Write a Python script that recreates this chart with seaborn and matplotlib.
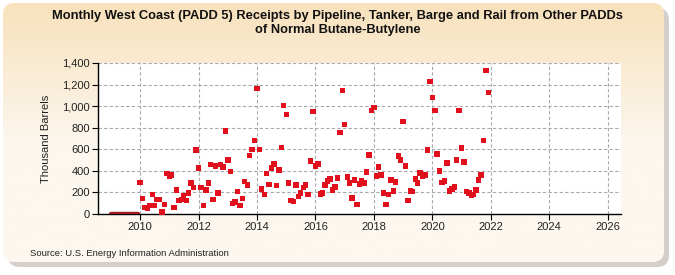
import numpy as np
import pandas as pd
import matplotlib
matplotlib.use("Agg")
import matplotlib.pyplot as plt
import matplotlib.dates as mdates
from matplotlib.patches import FancyBboxPatch
from matplotlib.ticker import FuncFormatter
import seaborn as sns

# ---- data (thousand barrels, monthly) ----
zero_start = "2009-01-01"
zero_values = [0] * 12  # 2009

series_start = "2010-01-01"
v2010 = [290, 141, 61, 49, 80, 178, 80, 132, 132, 18, 86, 375]
v2011 = [353, 362, 58, 224, 123, 132, 169, 123, 193, 286, 243, 592]
v2012 = [426, 243, 77, 224, 286, 460, 132, 445, 196, 460, 436, 768]
v2013 = [500, 396, 95, 110, 206, 77, 141, 304, 270, 543, 599, 682]
v2014 = [1163, 599, 233, 178, 378, 276, 426, 463, 267, 408, 617, 1007]
v2015 = [924, 289, 123, 114, 270, 160, 196, 243, 270, 178, 491, 951]
v2016 = [445, 463, 187, 196, 270, 307, 325, 224, 252, 334, 758, 1145]
v2017 = [832, 344, 289, 150, 316, 86, 279, 307, 289, 390, 546, 961]
v2018 = [988, 353, 436, 362, 196, 86, 178, 316, 215, 298, 537, 500]
v2019 = [859, 445, 123, 215, 206, 325, 289, 380, 353, 362, 592, 1228]
v2020 = [1080, 961, 555, 399, 292, 307, 473, 215, 233, 252, 500, 961]
v2021 = [611, 482, 206, 196, 169, 178, 224, 316, 362, 684, 1329, 1126]

yticks = [0, 200, 400, 600, 800, 1000, 1200, 1400]
xtick_years = [2010, 2012, 2014, 2016, 2018, 2020, 2022, 2024, 2026]

title = ("Monthly West Coast (PADD 5) Receipts by Pipeline, Tanker, Barge and Rail from Other PADDs\n"
         "of Normal Butane-Butylene")
ylabel = "Thousand Barrels"
source = "Source: U.S. Energy Information Administration"

values = v2010 + v2011 + v2012 + v2013 + v2014 + v2015 + v2016 + v2017 + v2018 + v2019 + v2020 + v2021
df = pd.DataFrame({"date": pd.date_range(series_start, periods=len(values), freq="MS"),
                   "value": values})
dz = pd.DataFrame({"date": pd.date_range(zero_start, periods=len(zero_values), freq="MS"),
                   "value": zero_values})

sns.set_theme(style="white")
plt.rcParams["font.family"] = ["Liberation Sans", "DejaVu Sans"]

W, H = 675, 275
fig = plt.figure(figsize=(W / 100, H / 100), dpi=100)
fig.patch.set_facecolor("white")

# background rounded panel with shadow and gradient
bg = fig.add_axes([0, 0, 1, 1], zorder=-10)
bg.set_xlim(0, W)
bg.set_ylim(H, 0)
bg.axis("off")
shadow = FancyBboxPatch((8, 8), W - 14, H - 16, boxstyle="round,pad=0,rounding_size=12",
                        facecolor="#b8b0a8", edgecolor="none", alpha=0.6)
bg.add_patch(shadow)
panel = FancyBboxPatch((3, 3), W - 14, H - 16, boxstyle="round,pad=0,rounding_size=12",
                       facecolor="#fcf6ee", edgecolor="none")
bg.add_patch(panel)
top = np.array([248, 225, 188]) / 255
bot = np.array([252, 247, 239]) / 255
t = np.clip(np.linspace(0, 1, 200) / 0.55, 0, 1)[:, None, None]
grad = top * (1 - t) + bot * t
grad = np.repeat(grad, 2, axis=1)
im = bg.imshow(grad, extent=(3, W - 11, H - 13, 3), aspect="auto", zorder=1)
im.set_clip_path(panel)

ax = fig.add_axes([97.7 / W, 1 - 214 / H, (621 - 97.7) / W, (214 - 63) / H])
ax.set_facecolor("white")

sns.lineplot(data=dz, x="date", y="value", ax=ax, color="#a01c22", linewidth=3.2,
             legend=False, zorder=3)
sns.scatterplot(data=df, x="date", y="value", ax=ax, marker="s", s=15, color="#e0101c",
                edgecolor="none", linewidth=0, legend=False, zorder=4, clip_on=False)

ax.set_xlim(pd.Timestamp("2008-07-20"), pd.Timestamp("2026-06-15"))
ax.set_ylim(0, 1400)
ax.set_yticks(yticks)
ax.yaxis.set_major_formatter(FuncFormatter(lambda v, p: f"{int(v):,}"))
ax.set_xticks([pd.Timestamp(f"{y}-01-01") for y in xtick_years])
ax.xaxis.set_major_formatter(mdates.DateFormatter("%Y"))

ax.grid(True, color="#aaaaaa", linestyle=(0, (3, 2)), linewidth=0.8)
for s in ["top", "right"]:
    ax.spines[s].set_visible(False)
for s in ["left", "bottom"]:
    ax.spines[s].set_color("black")
    ax.spines[s].set_linewidth(1.0)
ax.tick_params(axis="both", which="major", length=4, width=0.8, color="black",
               labelsize=8, labelcolor="#222222", pad=1.5, bottom=True, left=True)
ax.set_xlabel("")
ax.set_ylabel(ylabel, fontsize=8, color="#222222", labelpad=8)

fig.text(0.5, 1 - 23 / H, title, ha="center", va="center", fontsize=9.3,
         fontweight="bold", color="#111111", linespacing=1.3)
fig.text(30 / W, 1 - 253 / H, source, ha="left", va="center", fontsize=6.8, color="#222222")

fig.savefig("out.png", dpi=100, facecolor=fig.get_facecolor())
